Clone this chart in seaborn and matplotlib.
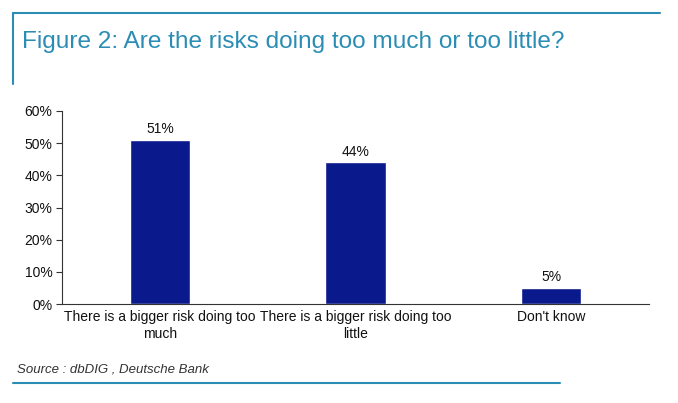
import matplotlib
matplotlib.use("Agg")
import matplotlib.pyplot as plt
import seaborn as sns
import pandas as pd
from matplotlib.lines import Line2D
from matplotlib.ticker import FixedLocator

categories = ["There is a bigger risk doing too\nmuch",
              "There is a bigger risk doing too\nlittle",
              "Don't know"]
shares = [51, 44, 5]
bar_labels = ["51%", "44%", "5%"]
y_ticks = [0, 10, 20, 30, 40, 50, 60]
y_tick_labels = ["0%", "10%", "20%", "30%", "40%", "50%", "60%"]

title = "Figure 2: Are the risks doing too much or too little?"
source = "Source : dbDIG , Deutsche Bank"

teal = "#2b8db3"
navy = "#0a1a8c"

sns.set_style("white")
plt.rcParams["font.family"] = ["Liberation Sans", "DejaVu Sans"]

df = pd.DataFrame({"category": categories, "share": shares})

fig = plt.figure(figsize=(6.78, 4.03), dpi=100)
ax = fig.add_axes([62 / 678, 1 - 304 / 403, 587 / 678, 193 / 403])

sns.barplot(data=df, x="category", y="share", color=navy, width=0.31,
            saturation=1, ax=ax)

for i, (v, lab) in enumerate(zip(shares, bar_labels)):
    ax.text(i, v + 1.2, lab, ha="center", va="bottom", fontsize=10, color="#111111")

ax.set_xlim(-0.5, 2.5)
ax.set_ylim(0, 60)
ax.set_yticks(y_ticks)
ax.set_yticklabels(y_tick_labels, fontsize=10, color="#111111")
ax.set_xticks(range(len(categories)))
ax.set_xticklabels(categories, fontsize=10, color="#111111", linespacing=1.35)
ax.tick_params(axis="x", which="major", length=0, pad=4)
ax.xaxis.set_minor_locator(FixedLocator([0.5, 1.5, 2.5]))
ax.tick_params(axis="x", which="minor", length=4, width=0.8, color="#333333", direction="out")
ax.tick_params(axis="y", length=4, width=0.8, color="#333333", direction="out", left=True, pad=3)
ax.set_xlabel("")
ax.set_ylabel("")
for s in ["top", "right"]:
    ax.spines[s].set_visible(False)
for s in ["left", "bottom"]:
    ax.spines[s].set_color("#333333")
    ax.spines[s].set_linewidth(0.8)

# frame lines and texts
fig.add_artist(Line2D([13 / 678, 660 / 678], [1 - 13 / 403, 1 - 13 / 403], color=teal, lw=1.5))
fig.add_artist(Line2D([13 / 678, 13 / 678], [1 - 13 / 403, 1 - 84 / 403], color=teal, lw=1.5))
fig.add_artist(Line2D([13 / 678, 560 / 678], [1 - 383 / 403, 1 - 383 / 403], color=teal, lw=1.5))
fig.text(22 / 678, 1 - 42 / 403, title, fontsize=17.6, color=teal, va="center", ha="left")
fig.text(17 / 678, 1 - 370 / 403, source, fontsize=9.5, color="#333333", style="italic",
         va="center", ha="left")

fig.savefig("out.png", dpi=100)
